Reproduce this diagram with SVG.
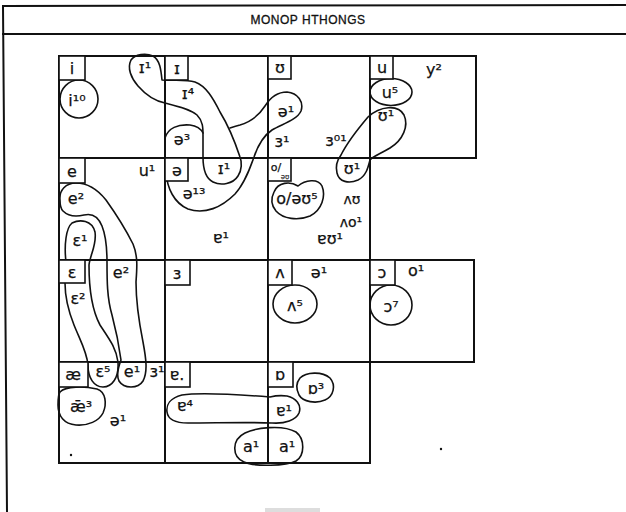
<svg xmlns="http://www.w3.org/2000/svg" width="626" height="512" viewBox="0 0 626 512">
<style>
.g{stroke:#111;stroke-width:2;fill:none;stroke-linecap:square}
.lp{stroke:#111;stroke-width:1.6;fill:none;stroke-linejoin:round;stroke-linecap:round}
.bx{stroke:#111;stroke-width:1.6;fill:#fff}
.t{font-family:"DejaVu Sans",sans-serif;font-size:16px;fill:#111;stroke:#111;stroke-width:0.25;text-anchor:middle}
.s{font-size:14px}
.h{font-family:"Liberation Sans",Arial,sans-serif;font-size:12px;letter-spacing:0.5px;fill:#111;stroke:#111;stroke-width:0.3;text-anchor:middle}
</style>
<rect width="626" height="512" fill="#fff"/>
<g id="frame">
<path class="g" d="M3,6 L626,5 M3,34 L626,34 M3,6 L7,512" stroke-width="1.6"/>
<text class="h" x="308" y="24">MONOP HTHONGS</text>
<rect x="265" y="508" width="55" height="4" fill="#ddd"/>
</g>
<g id="connectors">
<path class="lp" d="M162,80 C161,70 160,60 153,56 C146,53 135,54 131,60 C127,68 131,78 138,86 C145,94 155,101 165,103 C177,106 190,109 197,115 C203,121 203,128 203,135 L203,157 C203,168 205,178 213,182 C221,186 233,184 238,176 C242,170 242,162 240,157 C236,145 228,125 220,112 C213,98 206,86 195,82 C185,79 172,81 162,80 Z"/>
<path class="lp" d="M165,138 C168,128 178,124 190,125 C197,126 201,129 203,133"/>
<path class="lp" d="M166,172 C167,188 174,203 188,209 C205,215 222,207 235,194 C245,183 250,168 254,157 C258,145 263,136 272,130 C282,124 297,120 301,111 C304,102 298,93 287,92 C277,92 270,98 265,106 C258,117 250,122 240,125 C236,126 233,127 230,128"/>
<path class="lp" d="M368,117 C380,106 398,104 404,115 C409,126 403,140 390,148 C380,154 373,156 370,160 C368,168 366,176 358,180 C349,184 339,182 337,173 C335,165 338,159 341,155 C347,143 357,130 368,117 Z"/>
<path class="lp" d="M66,262 C64,245 66,228 72,223 C80,219 92,220 95,232 C97,245 90,255 89,265 C89,290 92,310 100,325 C110,340 116,348 118,362 C119,378 112,387 103,387 C94,387 88,378 88,365 C87,352 80,340 74,325 C68,310 65,295 65,283"/>
<path class="lp" d="M60,200 C59,190 66,183 76,183 C88,183 98,190 106,200 C116,214 126,230 133,244 C138,256 137,268 136,282 C136,300 139,322 143,342 C146,358 148,372 143,381 C138,389 124,389 119,381 C116,375 118,368 121,360 C119,345 116,330 112,315 C107,298 107,280 107,262 C107,248 106,236 102,226 C98,216 92,213 84,215 C76,217 68,216 63,211 C60,208 60,204 60,200 Z"/>
<ellipse class="lp" cx="79" cy="99" rx="19" ry="19"/>
<ellipse class="lp" cx="391" cy="92" rx="21" ry="13.5"/>
<path class="lp" d="M274,192 C278,182 290,181 298,186 C305,180 318,178 322,186 C326,196 322,210 310,216 C298,221 283,219 276,211 C271,205 271,198 274,192 Z"/>
<ellipse class="lp" cx="295" cy="304" rx="22" ry="19"/>
<ellipse class="lp" cx="391" cy="305" rx="21" ry="20"/>
<path class="lp" d="M60,392 C66,386 84,386 97,389 C106,392 107,404 103,413 C99,421 88,426 76,425 C64,424 58,416 58,405 C58,398 58,395 60,392 Z"/>
<path class="lp" d="M270,397 C245,395 200,392 182,395 C170,398 166,405 167,412 C168,420 176,423 188,423 C215,423 250,422 272,423 C285,424 296,420 299,413 C302,405 296,398 287,396 C280,395 274,396 270,397 Z"/>
<path class="lp" d="M300,378 C306,372 322,371 330,378 C336,385 334,396 325,400 C316,404 303,402 299,395 C296,389 296,383 300,378 Z"/>
<path class="lp" d="M245,433 C255,428 282,424 296,432 C305,439 305,455 296,461 C286,466 255,467 244,462 C232,457 231,440 245,433 Z"/>
</g>
<g id="grid">
<path class="g" d="M59,56 L476,56 M59,158 L476,158 M59,260 L474,260 M59,362 L474,362 M59,463 L370,463 M59,56 L59,463 M165,56 L165,463 M268,56 L268,463 M370,56 L370,463 M476,56 L476,158 M474,260 L474,362"/>
</g>
<g id="row1">
<g id="cell-i"><rect class="bx" x="59" y="56" width="26" height="24"/><text class="t" x="72" y="74">i</text><text class="t" x="77" y="106">i¹⁰</text></g>
<g id="cell-I"><rect class="bx" x="165" y="56" width="23" height="24"/><text class="t" x="177" y="74">ɪ</text><text class="t" x="145" y="73">ɪ¹</text><text class="t" x="188" y="99">ɪ⁴</text><text class="t" x="182" y="145">ə³</text></g>
<g id="cell-U"><rect class="bx" x="268" y="56" width="23" height="23"/><text class="t" x="280" y="73">ʊ</text><text class="t" x="286" y="117">ə¹</text><text class="t" x="282" y="147">ɜ¹</text><text class="t" x="336" y="146">ɜ⁰¹</text></g>
<g id="cell-u"><rect class="bx" x="370" y="56" width="23" height="23"/><text class="t" x="382" y="73">u</text><text class="t" x="390" y="98">u⁵</text><text class="t" x="386" y="121">ʊ¹</text><text class="t" x="434" y="75">y²</text></g>
</g>
<g id="row2">
<g id="cell-e"><rect class="bx" x="59" y="158" width="26" height="25"/><text class="t" x="72" y="177">e</text><text class="t" x="147" y="176">u¹</text><text class="t" x="76" y="204">e²</text><text class="t" x="80" y="246">ɛ¹</text></g>
<g id="cell-schwa"><rect class="bx" x="165" y="158" width="23" height="23"/><text class="t" x="177" y="176">ə</text><text class="t" x="224" y="174">ɪ¹</text><text class="t" x="194" y="199">ə¹³</text><text class="t" x="221" y="243">ɐ¹</text></g>
<g id="cell-o"><rect class="bx" x="268" y="158" width="23" height="23"/><text class="t" x="276" y="171" style="font-size:11px">o/</text><text class="t" x="285" y="179" style="font-size:7px;stroke-width:0.1">əʊ</text><text class="t" x="297" y="204">o/əʊ⁵</text><text class="t" x="352" y="174">ʊ¹</text><text class="t s" x="352" y="204">ʌʊ</text><text class="t s" x="351" y="227">ʌo¹</text><text class="t" x="330" y="244">ɐʊ¹</text></g>
</g>
<g id="row3">
<g id="cell-E"><rect class="bx" x="59" y="260" width="26" height="23"/><text class="t" x="72" y="278">ɛ</text><text class="t" x="121" y="278">e²</text><text class="t" x="78" y="304">ɛ²</text></g>
<g id="cell-3"><rect class="bx" x="165" y="260" width="25" height="25"/><text class="t" x="177" y="279">ɜ</text></g>
<g id="cell-V"><rect class="bx" x="268" y="260" width="24" height="25"/><text class="t" x="280" y="278">ʌ</text><text class="t" x="319" y="278">ə¹</text><text class="t" x="295" y="311">ʌ⁵</text></g>
<g id="cell-O"><rect class="bx" x="370" y="260" width="25" height="25"/><text class="t" x="382" y="278">ɔ</text><text class="t" x="416" y="276">o¹</text><text class="t" x="391" y="312">ɔ⁷</text></g>
</g>
<g id="row4">
<g id="cell-ae"><rect class="bx" x="59" y="362" width="29" height="25"/><text class="t" x="73" y="380">æ</text><text class="t" x="103" y="377">ɛ⁵</text><text class="t" x="132" y="377">e¹</text><text class="t" x="157" y="377">ɜ¹</text><text class="t" x="81" y="412">ǣ³</text><text class="t" x="118" y="426">ə¹</text><circle cx="71" cy="455" r="1.2" fill="#111"/></g>
<g id="cell-6"><rect class="bx" x="165" y="362" width="25" height="25"/><text class="t" x="177" y="380">ɐ.</text><text class="t" x="185" y="411">ɐ⁴</text><text class="t" x="251" y="452">a¹</text></g>
<g id="cell-Q"><rect class="bx" x="268" y="362" width="25" height="25"/><text class="t" x="280" y="380">ɒ</text><text class="t" x="316" y="394">ɒ³</text><text class="t" x="284" y="416">ɐ¹</text><text class="t" x="287" y="452">a¹</text></g>
<circle cx="441" cy="449" r="1.2" fill="#111"/>
</g>
</svg>
